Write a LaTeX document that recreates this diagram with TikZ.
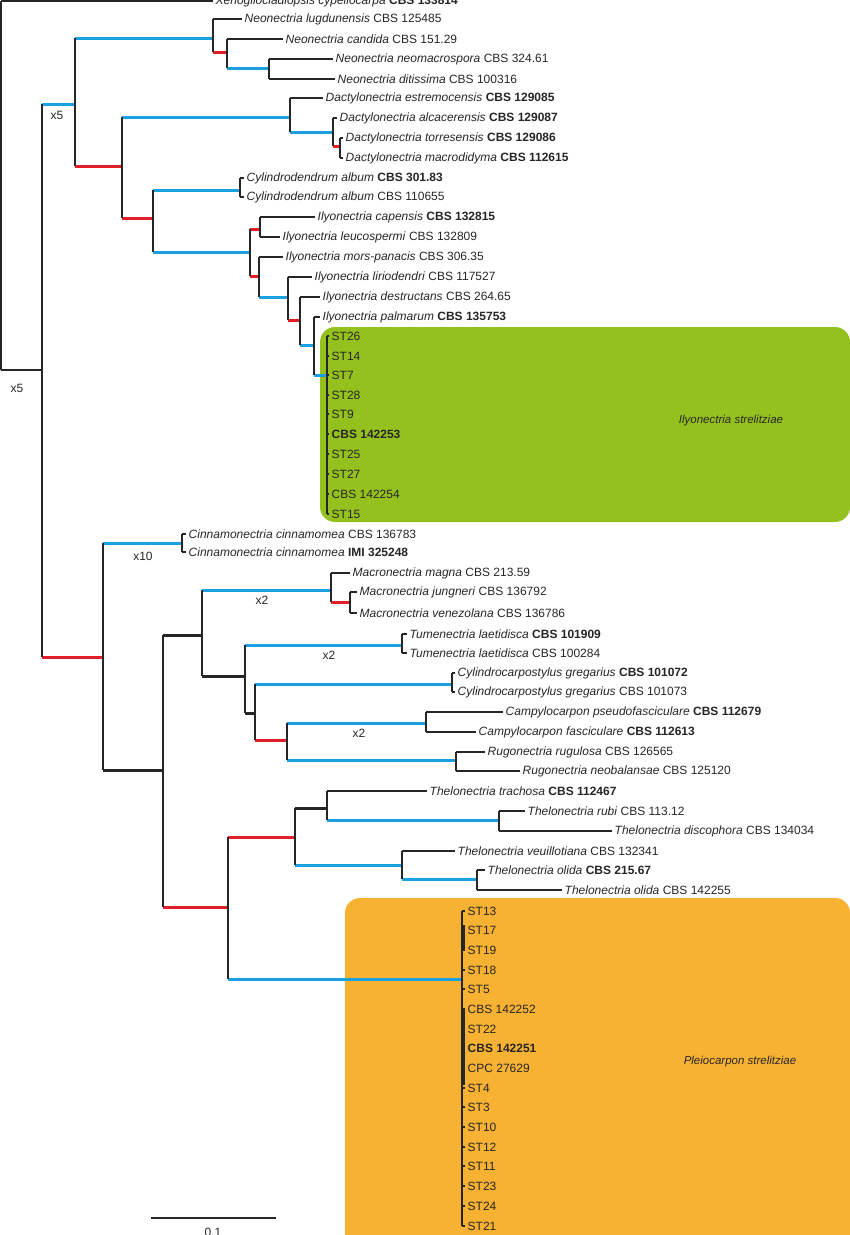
\documentclass[tikz,border=0pt]{standalone}
\usepackage{fontspec}
\setmainfont{Liberation Sans}
\definecolor{cb}{RGB}{27,161,226}
\definecolor{cr}{RGB}{226,30,38}
\definecolor{cg}{RGB}{149,193,31}
\definecolor{co}{RGB}{247,177,51}
\tikzset{
 bl/.style={line width=3pt,draw=cb},
 rd/.style={line width=3pt,draw=cr},
 bk/.style={line width=1.5pt,draw=black!85},
 tk/.style={line width=3pt,draw=black!85},
 lab/.style={font=\fontsize{12}{12}\selectfont,anchor=west,inner sep=2.5pt,text=black!85},
 mult/.style={font=\fontsize{12}{12}\selectfont,inner sep=0pt,text=black!85},
}
\newcommand\lf[5]{\node[lab] (#1) at (#3,#4) {#5}; \draw[bk] (#2 |- #1.west) -- (#1.west);}
\newcommand\nd[5]{\coordinate (#1) at (#3,#4); \draw[#5] (#2 |- #1) -- (#1);}
\newcommand\vt[3]{\draw[bk] (#1 |- #2) -- (#1 |- #3);}
\begin{document}
\begin{tikzpicture}[x=1pt,y=-1pt]
\useasboundingbox (0,0) rectangle (850,1235);
\fill[cg,rounded corners=15pt] (320,327) rectangle (850,522);
\fill[co,rounded corners=15pt] (345,898) rectangle (850,1260);
\node[mult,font=\fontsize{11.5}{12}\selectfont\itshape] (gl) at (731,421) {Ilyonectria strelitziae};
\node[mult,font=\fontsize{11.5}{12}\selectfont\itshape] (ol) at (740,1062) {Pleiocarpon strelitziae};
% root
\coordinate (R) at (1,370);
\lf{xen}{R}{213}{1}{\textit{Xenogliocladiopsis cypellocarpa} \textbf{CBS 133814}}
\nd{A}{R}{42}{370}{bk}
\vt{R}{xen}{A}
\node[mult] (m0) at (17,388) {x5};
\nd{B}{A}{75}{104}{bl}
\node[mult] (m1) at (57,115) {x5};
\nd{C}{B}{213}{38}{bl}
\lf{l1}{C}{242}{19}{\textit{Neonectria lugdunensis} CBS 125485}
\nd{D}{C}{227}{52}{rd}
\lf{l2}{D}{283}{39}{\textit{Neonectria candida} CBS 151.29}
\nd{E}{D}{269}{68}{bl}
\lf{l3}{E}{333}{59}{\textit{Neonectria neomacrospora} CBS 324.61}
\lf{l4}{E}{335}{79}{\textit{Neonectria ditissima} CBS 100316}
\vt{E}{l3}{l4}\vt{D}{l2}{E}\vt{C}{l1}{D}
\nd{F}{B}{122}{166}{rd}
\nd{G}{F}{290}{117}{bl}
\lf{l5}{G}{323}{98}{\textit{Dactylonectria estremocensis} \textbf{CBS 129085}}
\nd{H}{G}{333}{132}{bl}
\lf{l6}{H}{337}{118}{\textit{Dactylonectria alcacerensis} \textbf{CBS 129087}}
\nd{I}{H}{340}{146}{rd}
\lf{l7}{I}{343}{138}{\textit{Dactylonectria torresensis} \textbf{CBS 129086}}
\lf{l8}{I}{343}{158}{\textit{Dactylonectria macrodidyma} \textbf{CBS 112615}}
\vt{I}{l7}{l8}\vt{H}{l6}{I}\vt{G}{l5}{H}
\nd{J}{F}{153}{218}{rd}
\vt{F}{G}{J}
\nd{K}{J}{240}{190}{bl}
\lf{l9}{K}{244}{178}{\textit{Cylindrodendrum album} \textbf{CBS 301.83}}
\lf{l10}{K}{244}{197}{\textit{Cylindrodendrum album} CBS 110655}
\vt{K}{l9}{l10}
\nd{M}{J}{250}{252}{bl}
\vt{J}{K}{M}
\nd{N}{M}{260}{229}{rd}
\lf{l11}{N}{315}{217}{\textit{Ilyonectria capensis} \textbf{CBS 132815}}
\lf{l12}{N}{280}{237}{\textit{Ilyonectria leucospermi} CBS 132809}
\vt{N}{l11}{l12}
\nd{O}{M}{259}{276}{rd}
\vt{M}{N}{O}
\lf{l13}{O}{283}{257}{\textit{Ilyonectria mors-panacis} CBS 306.35}
\nd{P}{O}{288}{297}{bl}
\vt{O}{l13}{P}
\lf{l14}{P}{312}{277}{\textit{Ilyonectria liriodendri} CBS 117527}
\nd{Q}{P}{300}{320}{rd}
\vt{P}{l14}{Q}
\lf{l15}{Q}{320}{297}{\textit{Ilyonectria destructans} CBS 264.65}
\nd{S}{Q}{314}{345}{bl}
\vt{Q}{l15}{S}
\lf{l16}{S}{320}{317}{\textit{Ilyonectria palmarum} \textbf{CBS 135753}}
\nd{T}{S}{327}{375}{bl}
\vt{S}{l16}{T}
\lf{g1}{T}{329}{336}{ST26}
\lf{g2}{T}{329}{356}{ST14}
\lf{g3}{T}{329}{375}{ST7}
\lf{g4}{T}{329}{395}{ST28}
\lf{g5}{T}{329}{414}{ST9}
\lf{g6}{T}{329}{434}{\textbf{CBS 142253}}
\lf{g7}{T}{329}{454}{ST25}
\lf{g8}{T}{329}{474}{ST27}
\lf{g9}{T}{329}{494}{CBS 142254}
\lf{g10}{T}{329}{514}{ST15}
\vt{T}{g1}{g10}
\vt{B}{C}{F}
% lower
\nd{U}{A}{103}{657}{rd}
\vt{A}{B}{U}
\nd{V}{U}{182}{543}{bl}
\node[mult] (m2) at (143,556) {x10};
\lf{c1}{V}{186}{534}{\textit{Cinnamonectria cinnamomea} CBS 136783}
\lf{c2}{V}{186}{552}{\textit{Cinnamonectria cinnamomea} \textbf{IMI 325248}}
\vt{V}{c1}{c2}
\nd{W}{U}{163}{770}{tk}
\vt{U}{V}{W}
\nd{X}{W}{202}{635}{tk}
\nd{Y}{X}{331}{590}{bl}
\node[mult] (m3) at (262,600) {x2};
\lf{c3}{Y}{350}{573}{\textit{Macronectria magna} CBS 213.59}
\nd{Z}{Y}{350}{602}{rd}
\lf{c4}{Z}{357}{592}{\textit{Macronectria jungneri} CBS 136792}
\lf{c5}{Z}{357}{613}{\textit{Macronectria venezolana} CBS 136786}
\vt{Z}{c4}{c5}\vt{Y}{c3}{Z}
\nd{AA}{X}{245}{676}{tk}
\vt{X}{Y}{AA}
\nd{AB}{AA}{402}{645}{bl}
\node[mult] (m4) at (329,655) {x2};
\lf{c6}{AB}{407}{634}{\textit{Tumenectria laetidisca} \textbf{CBS 101909}}
\lf{c7}{AB}{407}{653}{\textit{Tumenectria laetidisca} CBS 100284}
\vt{AB}{c6}{c7}
\nd{AC}{AA}{255}{713}{tk}
\vt{AA}{AB}{AC}
\nd{AD}{AC}{452}{684}{bl}
\lf{c8}{AD}{455}{673}{\textit{Cylindrocarpostylus gregarius} \textbf{CBS 101072}}
\lf{c9}{AD}{455}{692}{\textit{Cylindrocarpostylus gregarius} CBS 101073}
\vt{AD}{c8}{c9}
\nd{AE}{AC}{287}{740}{rd}
\vt{AC}{AD}{AE}
\nd{AF}{AE}{426}{723}{bl}
\node[mult] (m5) at (359,733) {x2};
\lf{c10}{AF}{503}{712}{\textit{Campylocarpon pseudofasciculare} \textbf{CBS 112679}}
\lf{c11}{AF}{476}{732}{\textit{Campylocarpon fasciculare} \textbf{CBS 112613}}
\vt{AF}{c10}{c11}
\nd{AG}{AE}{456}{760}{bl}
\vt{AE}{AF}{AG}
\lf{c12}{AG}{485}{752}{\textit{Rugonectria rugulosa} CBS 126565}
\lf{c13}{AG}{520}{771}{\textit{Rugonectria neobalansae} CBS 125120}
\vt{AG}{c12}{c13}
\nd{AH}{W}{228}{907}{rd}
\vt{W}{X}{AH}
\nd{AI}{AH}{295}{837}{rd}
\nd{AJ}{AI}{327}{808}{tk}
\lf{c14}{AJ}{427}{791}{\textit{Thelonectria trachosa} \textbf{CBS 112467}}
\nd{AK}{AJ}{499}{820}{bl}
\vt{AJ}{c14}{AK}
\lf{c15}{AK}{525}{811}{\textit{Thelonectria rubi} CBS 113.12}
\lf{c16}{AK}{612}{831}{\textit{Thelonectria discophora} CBS 134034}
\vt{AK}{c15}{c16}
\nd{AL}{AI}{402}{865}{bl}
\vt{AI}{AJ}{AL}
\lf{c17}{AL}{455}{851}{\textit{Thelonectria veuillotiana} CBS 132341}
\nd{AM}{AL}{477}{879}{bl}
\vt{AL}{c17}{AM}
\lf{c18}{AM}{485}{870}{\textit{Thelonectria olida} \textbf{CBS 215.67}}
\lf{c19}{AM}{562}{890}{\textit{Thelonectria olida} CBS 142255}
\vt{AM}{c18}{c19}
\nd{AN}{AH}{462}{979}{bl}
\vt{AH}{AI}{AN}
\lf{p1}{AN}{465}{911}{ST13}
\lf{p2}{AN}{465}{930}{ST17}
\lf{p3}{AN}{465}{950}{ST19}
\lf{p4}{AN}{465}{970}{ST18}
\lf{p5}{AN}{465}{989}{ST5}
\lf{p6}{AN}{465}{1009}{CBS 142252}
\lf{p7}{AN}{465}{1029}{ST22}
\lf{p8}{AN}{465}{1048}{\textbf{CBS 142251}}
\lf{p9}{AN}{465}{1068}{CPC 27629}
\lf{p10}{AN}{465}{1088}{ST4}
\lf{p11}{AN}{465}{1107}{ST3}
\lf{p12}{AN}{465}{1127}{ST10}
\lf{p13}{AN}{465}{1147}{ST12}
\lf{p14}{AN}{465}{1166}{ST11}
\lf{p15}{AN}{465}{1186}{ST23}
\lf{p16}{AN}{465}{1206}{ST24}
\lf{p17}{AN}{465}{1226}{ST21}
\vt{AN}{p1}{p17}
\draw[tk] (463,925) -- (463,950);
\draw[tk] (463,1010) -- (463,1085);
% scale
\coordinate (sb1) at (151,1218);
\coordinate (sb2) at (276,1218);
\draw[bk] (sb1) -- (sb2);
\node[mult] (sbl) at (213,1232) {0.1};
\end{tikzpicture}
\end{document}
